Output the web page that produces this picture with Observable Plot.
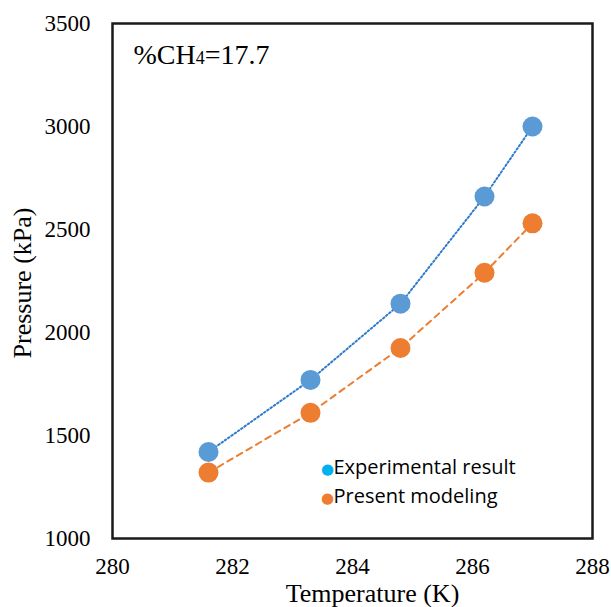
<!DOCTYPE html>
<html>
<head>
<meta charset="utf-8">
<script src="https://cdn.jsdelivr.net/npm/d3@7"></script>
<script src="https://cdn.jsdelivr.net/npm/@observablehq/plot@0.6"></script>
<style>
  html, body { margin: 0; padding: 0; background: #fff; }
  #chart { width: 611px; height: 607px; }
</style>
</head>
<body>
<div id="chart"></div>
<script>
const temperature = [281.6, 283.3, 284.8, 286.2, 287.0];
const experimental = [1420, 1770, 2140, 2660, 3000];
const modeling = [1320, 1610, 1925, 2290, 2530];
const xTicks = [280, 282, 284, 286, 288];
const yTicks = [1000, 1500, 2000, 2500, 3000, 3500];
const seriesNames = ["Experimental result", "Present modeling"];
const annotationText = "%CH4=17.7";

const expData = temperature.map((t, i) => ({T: t, P: experimental[i]}));
const modData = temperature.map((t, i) => ({T: t, P: modeling[i]}));

const serif = "Liberation Serif";

const plot = Plot.plot({
  width: 611,
  height: 607,
  marginLeft: 112,
  marginRight: 19,
  marginTop: 23,
  marginBottom: 69,
  style: {fontFamily: serif, background: "#fff", color: "#000", overflow: "visible"},
  x: {domain: [280, 288], label: null, axis: null},
  y: {domain: [1000, 3500], label: null, axis: null},
  marks: [
    // tick labels (drawn through the scales)
    Plot.text(xTicks, {x: d => d, frameAnchor: "bottom", lineAnchor: "middle", dy: 28, text: d => String(d), fontSize: 23, fontFamily: serif, fill: "#000"}),
    Plot.text(yTicks, {y: d => d, frameAnchor: "left", textAnchor: "end", lineAnchor: "middle", dx: -22, text: d => String(d), fontSize: 23, fontFamily: serif, fill: "#000"}),
    Plot.frame({stroke: "#1a1a1a", strokeWidth: 2.5}),
    Plot.line(expData, {x: "T", y: "P", stroke: "#2E7BCB", strokeWidth: 2, strokeDasharray: "1.6,2.4"}),
    Plot.line(modData, {x: "T", y: "P", stroke: "#ED7D31", strokeWidth: 2, strokeDasharray: "6,5"}),
    Plot.dot(expData, {x: "T", y: "P", r: 10, fill: "#5B9BD5", stroke: "none"}),
    Plot.dot(modData, {x: "T", y: "P", r: 10, fill: "#ED7D31", stroke: "none"}),
    // annotation
    Plot.text([annotationText], {frameAnchor: "top-left", dx: 21, dy: 21, text: d => d, textAnchor: "start", fontSize: 28, fontFamily: serif, fill: "#000", className: "annot"}),
    // legend
    Plot.text([seriesNames[0]], {frameAnchor: "bottom-left", dx: 215, dy: -65, text: () => "●", fill: "#00B0F0", fontSize: 15, fontFamily: "DejaVu Sans", textAnchor: "middle"}),
    Plot.text([seriesNames[1]], {frameAnchor: "bottom-left", dx: 215, dy: -36, text: () => "●", fill: "#ED7D31", fontSize: 15, fontFamily: "DejaVu Sans", textAnchor: "middle"}),
    Plot.text([seriesNames[0]], {frameAnchor: "bottom-left", dx: 221, dy: -65, text: d => d, fill: "#000", fontSize: 20, fontFamily: "Open Sans", textAnchor: "start"}),
    Plot.text([seriesNames[1]], {frameAnchor: "bottom-left", dx: 221, dy: -36, text: d => d, fill: "#000", fontSize: 20, fontFamily: "Open Sans", textAnchor: "start"}),
    // axis titles
    Plot.text(["Temperature (K)"], {frameAnchor: "bottom", dx: 20, dy: 63, text: d => d, fontSize: 26, fontFamily: serif, fill: "#000"}),
    Plot.text(["Pressure (kPa)"], {frameAnchor: "left", dx: -90, dy: 2, rotate: -90, textAnchor: "middle", text: d => d, fontSize: 26, fontFamily: serif, fill: "#000"})
  ]
});

document.getElementById("chart").appendChild(plot);

// Render the "4" of CH4 smaller, as in the reference
d3.select(plot).selectAll("g.annot text").each(function() {
  const t = d3.select(this);
  const s = t.text();
  const i = s.indexOf("4");
  if (i < 0) return;
  t.text(null);
  t.append("tspan").text(s.slice(0, i));
  t.append("tspan").attr("font-size", 18).text(s.slice(i, i + 1));
  t.append("tspan").text(s.slice(i + 1));
});
</script>
</body>
</html>
